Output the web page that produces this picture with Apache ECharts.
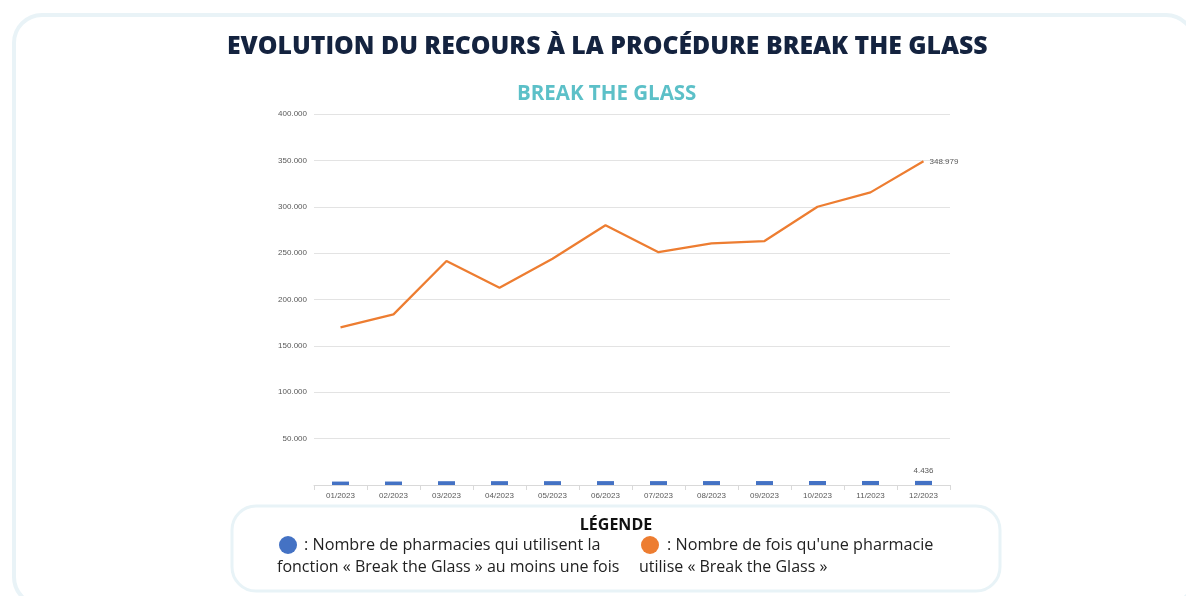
<!DOCTYPE html>
<html>
<head>
<meta charset="utf-8">
<script src="https://cdn.jsdelivr.net/npm/echarts@6/dist/echarts.min.js"></script>
<style>
  html, body { margin: 0; padding: 0; background: #fff; }
  #chart { width: 1186px; height: 596px; }
</style>
</head>
<body>
<div id="chart"></div>
<script>
const months = ['01/2023', '02/2023', '03/2023', '04/2023', '05/2023', '06/2023',
  '07/2023', '08/2023', '09/2023', '10/2023', '11/2023', '12/2023']
// pharmacies using the function at least once (blue bars)
const pharmacies = [3700, 3750, 4100, 4150, 4150, 4200, 4200, 4250, 4250, 4300, 4350, 4436]
// number of uses of "Break the Glass" (orange line)
const uses = [170000, 184000, 241500, 212700, 244000, 280000, 251000, 260500, 263000, 300000, 315500, 348979]

// 400000 -> "400.000"
const fmt = (v) => String(Math.round(v)).replace(/\B(?=(\d{3})+(?!\d))/g, '.')

const chart = echarts.init(document.getElementById('chart'))
const font = 'Open Sans'

const option = {
  backgroundColor: '#fff',
  animation: false,
  textStyle: { fontFamily: font },
  title: [
    {
      text: 'EVOLUTION DU RECOURS À LA PROCÉDURE BREAK THE GLASS',
      left: 222,
      top: 29,
      textStyle: { fontFamily: font, fontSize: 24.8, fontWeight: 800, color: '#14233f' },
    },
    {
      text: 'BREAK THE GLASS',
      left: 512,
      top: 79,
      textStyle: { fontFamily: font, fontSize: 20.5, fontWeight: 'bold', color: '#5cc0c8' },
    },
  ],
  grid: { left: 314, right: 236, top: 114, bottom: 111 },
  xAxis: {
    type: 'category',
    data: months,
    axisLine: { lineStyle: { color: '#d9d9d9' } },
    axisTick: { show: true, lineStyle: { color: '#d9d9d9' } },
    axisLabel: { color: '#595959', fontSize: 8, fontFamily: 'Liberation Sans', margin: 7 },
  },
  yAxis: {
    type: 'value',
    min: 0,
    max: 400000,
    interval: 50000,
    axisLine: { show: false },
    axisTick: { show: false },
    splitLine: { lineStyle: { color: '#e3e3e3', width: 1 } },
    axisLabel: {
      color: '#595959',
      fontSize: 8,
      fontFamily: 'Liberation Sans',
      showMinLabel: false,
      margin: 7,
      formatter: fmt,
    },
  },
  series: [
    {
      name: 'Pharmacies',
      type: 'bar',
      data: pharmacies,
      barWidth: 17,
      itemStyle: { color: '#4472c4' },
      label: {
        show: true,
        position: 'top',
        distance: 6,
        color: '#595959',
        fontSize: 8,
        fontFamily: 'Liberation Sans',
        formatter: (p) => (p.dataIndex === pharmacies.length - 1 ? fmt(p.value) : ''),
      },
    },
    {
      name: 'Utilisations',
      type: 'line',
      data: uses,
      symbol: 'none',
      lineStyle: { color: '#ed7d31', width: 2.25 },
      itemStyle: { color: '#ed7d31' },
      endLabel: {
        show: true,
        color: '#595959',
        fontSize: 8,
        fontFamily: 'Liberation Sans',
        distance: 6,
        formatter: (p) => fmt(p.value),
      },
    },
  ],
  graphic: [
    {
      type: 'rect',
      z: -10,
      silent: true,
      shape: { x: 14, y: 15, width: 1180, height: 590, r: 28 },
      style: { fill: '#fff', stroke: '#e9f3f7', lineWidth: 4 },
    },
    {
      type: 'rect',
      silent: true,
      shape: { x: 232, y: 506, width: 768, height: 85, r: 24 },
      style: { fill: '#fff', stroke: '#e8f3f7', lineWidth: 3 },
    },
    {
      type: 'text',
      silent: true,
      style: {
        x: 616, y: 525, text: 'LÉGENDE', align: 'center', verticalAlign: 'middle',
        font: 'bold 16px "Open Sans"', fill: '#111',
      },
    },
    {
      type: 'circle',
      silent: true,
      shape: { cx: 288, cy: 545, r: 9 },
      style: { fill: '#4472c4' },
    },
    {
      type: 'circle',
      silent: true,
      shape: { cx: 650, cy: 545, r: 9 },
      style: { fill: '#ed7d31' },
    },
    {
      type: 'text',
      silent: true,
      style: {
        x: 304, y: 545, text: ': Nombre de pharmacies qui utilisent la', verticalAlign: 'middle',
        font: '16.2px "Open Sans"', fill: '#222',
      },
    },
    {
      type: 'text',
      silent: true,
      style: {
        x: 277, y: 567, text: 'fonction « Break the Glass » au moins une fois', verticalAlign: 'middle',
        font: '16px "Open Sans"', fill: '#222',
      },
    },
    {
      type: 'text',
      silent: true,
      style: {
        x: 667, y: 545, text: ": Nombre de fois qu'une pharmacie", verticalAlign: 'middle',
        font: '16.2px "Open Sans"', fill: '#222',
      },
    },
    {
      type: 'text',
      silent: true,
      style: {
        x: 639, y: 567, text: 'utilise « Break the Glass »', verticalAlign: 'middle',
        font: '16px "Open Sans"', fill: '#222',
      },
    },
  ],
}

chart.setOption(option)
window.onresize = () => {
  chart.resize()
}
</script>
</body>
</html>
